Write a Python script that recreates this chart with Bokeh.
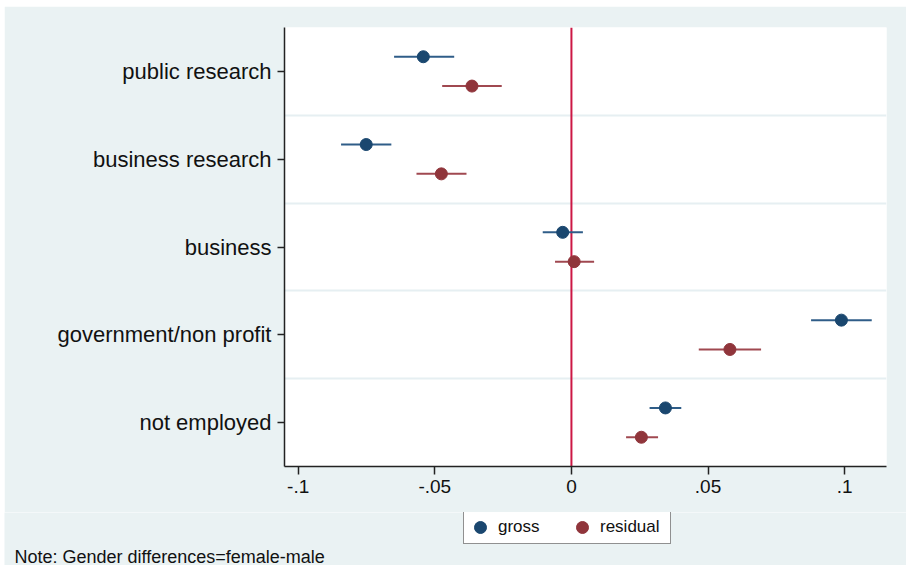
from bokeh.plotting import figure
from bokeh.layouts import column
from bokeh.models import (FixedTicker, Span, Legend, LegendItem, Label, Range1d, ColumnDataSource)
from bokeh.embed import file_html
from bokeh.resources import INLINE

categories = ["public research", "business research", "business", "government/non profit", "not employed"]
gross = [-0.0542, -0.0751, -0.0032, 0.0988, 0.0344]
gross_lo = [-0.0649, -0.0843, -0.0105, 0.0877, 0.0286]
gross_hi = [-0.0429, -0.0659, 0.0042, 0.1099, 0.0402]
resid = [-0.0364, -0.0476, 0.0010, 0.0580, 0.0256]
resid_lo = [-0.0473, -0.0567, -0.0060, 0.0466, 0.0200]
resid_hi = [-0.0255, -0.0384, 0.0083, 0.0694, 0.0317]
x_ticks = [-0.1, -0.05, 0, 0.05, 0.1]
x_tick_labels = ["-.1", "-.05", "0", ".05", ".1"]
series_names = ["gross", "residual"]
note = "Note: Gender differences=female-male"

FONT = "Liberation Sans"
BG = "#EAF2F3"
C_G, C_R = "#1A476F", "#90353B"
n = len(categories)
ypos = [n - i for i in range(n)]
off = 0.167
g_src = ColumnDataSource(dict(x=gross, lo=gross_lo, hi=gross_hi, y=[v + off for v in ypos]))
r_src = ColumnDataSource(dict(x=resid, lo=resid_lo, hi=resid_hi, y=[v - off for v in ypos]))

p = figure(width=902, height=506, output_backend="svg", toolbar_location=None,
           x_range=Range1d(-0.105, 0.1153), y_range=Range1d(0.5, n + 0.5),
           min_border_left=280, min_border_right=20, min_border_top=21, min_border_bottom=46)
p.margin = (6, 0, 0, 4)
p.border_fill_color = BG
p.background_fill_color = "white"
p.outline_line_color = None

p.xgrid.visible = False
p.ygrid.ticker = FixedTicker(ticks=[v + 0.5 for v in ypos[1:]])
p.ygrid.grid_line_color = "#E6EFF2"
p.ygrid.grid_line_width = 2

p.xaxis.ticker = FixedTicker(ticks=x_ticks)
p.xaxis.major_label_overrides = {t: l for t, l in zip(x_ticks, x_tick_labels)}
p.yaxis.ticker = FixedTicker(ticks=ypos)
p.yaxis.major_label_overrides = {y: c for y, c in zip(ypos, categories)}
for ax in (p.xaxis, p.yaxis):
    ax.axis_line_color = "#222222"
    ax.axis_line_width = 1.5
    ax.major_tick_line_color = "#222222"
    ax.major_tick_line_width = 1.5
    ax.major_tick_in = 0
    ax.minor_tick_line_color = None
    ax.major_label_text_font = FONT
    ax.major_label_text_color = "#111111"
p.xaxis.major_tick_out = 8
p.xaxis.major_label_standoff = 5
p.xaxis.major_label_text_font_size = "19px"
p.yaxis.major_tick_out = 7
p.yaxis.major_label_standoff = 6
p.yaxis.major_label_text_font_size = "22px"

p.add_layout(Span(location=0, dimension="height", line_color="#CC1744", line_width=2, level="underlay"))

p.segment(x0="lo", y0="y", x1="hi", y1="y", source=g_src, line_color="#2F5D88", line_width=2)
p.segment(x0="lo", y0="y", x1="hi", y1="y", source=r_src, line_color="#A04850", line_width=2)
p.scatter(x="x", y="y", source=g_src, size=12, fill_color=C_G, line_color=C_G)
p.scatter(x="x", y="y", source=r_src, size=12, fill_color=C_R, line_color=C_R)

# lower strip holding the legend and the note
q = figure(width=902, height=53, output_backend="svg", toolbar_location=None,
           x_range=Range1d(0, 902), y_range=Range1d(0, 53),
           x_axis_type=None, y_axis_type=None,
           min_border_left=0, min_border_right=0, min_border_top=0, min_border_bottom=0)
q.margin = (0, 0, 0, 4)
for fig in (p, q):
    if "frame_align" in fig.properties():
        fig.frame_align = False
q.border_fill_color = BG
q.background_fill_color = BG
q.outline_line_color = None
q.grid.visible = False
nan = float("nan")
lg = q.scatter(x="x", y="y", source=ColumnDataSource(dict(x=[nan], y=[nan])), fill_color=C_G, line_color=C_G)
lr = q.scatter(x="x", y="y", source=ColumnDataSource(dict(x=[nan], y=[nan])), fill_color=C_R, line_color=C_R)

legend = Legend(items=[LegendItem(label=series_names[0], renderers=[lg]),
                       LegendItem(label=series_names[1], renderers=[lr])],
                location=(459, 21), orientation="horizontal", padding=1, margin=0, spacing=0,
                glyph_width=30, glyph_height=30, label_standoff=3, label_width=69,
                label_text_font=FONT, label_text_font_size="17px", label_text_color="#111111",
                border_line_color="#222222", border_line_width=1.5, background_fill_color="white",
                background_fill_alpha=1.0)
q.add_layout(legend, "center")

q.add_layout(Label(x=10, y=9, x_units="screen", y_units="screen", text=note,
                   text_font=FONT, text_font_size="18px", text_baseline="alphabetic", text_color="#111111"))

layout = column(p, q, spacing=0)
open("out.html", "w").write(file_html(layout, INLINE))
